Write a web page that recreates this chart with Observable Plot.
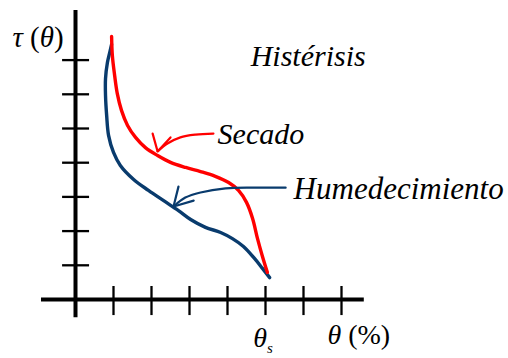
<!DOCTYPE html>
<html><head><meta charset="utf-8">
<script src="https://cdn.jsdelivr.net/npm/d3@7"></script>
<script src="https://cdn.jsdelivr.net/npm/@observablehq/plot@0.6"></script>
<style>
body{margin:0;background:#fff}
#chart svg text, #chart svg tspan{font-family:"Liberation Serif","Times New Roman",serif !important;}
</style>
</head><body><div id="chart"></div>
<script>
// Secado (drying) curve
const secadoX = [0.95,0.97,1.03,1.10,1.21,1.37,1.58,1.84,2.16,2.50,2.90,3.29,3.68,4.03,4.29,4.50,4.66,4.79,4.92,5.05];
const secadoY = [7.69,7.13,6.55,6.02,5.53,5.09,4.74,4.44,4.21,4.01,3.86,3.74,3.60,3.42,3.19,2.84,2.37,1.78,1.26,0.79];
// Humedecimiento (wetting) curve
const humedX = [0.95,0.90,0.84,0.79,0.79,0.82,0.87,1.00,1.18,1.53,1.92,2.32,2.71,3.03,3.42,3.82,4.13,4.42,4.71,4.92,5.11];
const humedY = [7.46,7.22,6.93,6.46,5.96,5.38,4.80,4.30,3.92,3.51,3.19,2.89,2.60,2.34,2.11,1.96,1.78,1.55,1.20,0.91,0.64];
// annotation arrows
const secArrowX = [3.63,3.16,2.76,2.42,2.16];
const secArrowY = [4.85,4.82,4.74,4.56,4.33];
const secHeadX = [2.03,2.16,2.50];
const secHeadY = [4.85,4.33,4.74];
const humArrowX = [5.53,4.71,3.95,3.29,2.89,2.58];
const humArrowY = [3.27,3.27,3.25,3.13,2.98,2.72];
const humHeadX = [2.71,2.58,3.11];
const humHeadY = [3.30,2.72,2.89];
// axes
const xTicks = [1,2,3,4,5,6,7];
const yTicks = [1,2,3,4,5,6,7];
const xAxisExtent = [-0.895, 7.6];
const yAxisExtent = [-0.53, 8.45];
// labels
const labelText = ["τ (θ)", "Histérisis", "Secado", "Humedecimiento", "θ (%)", "θs"];
const labelX = [-1.66, 4.61, 3.74, 5.74, 6.63, 4.68];
const labelY = [7.37, 6.84, 4.56, 2.95, -1.29, -1.40];

const pts = (xs, ys) => xs.map((x, i) => ({x, y: ys[i]}));
const red = "#ff0000", blue = "#093b6d";
const serif = "Liberation Serif";

const lab = (i, opts) => Plot.text([{x: labelX[i], y: labelY[i], t: labelText[i]}],
  {x: "x", y: "y", text: "t", textAnchor: "start", lineAnchor: "bottom", fontFamily: serif, fill: "black", ...opts});

const chart = Plot.plot({
  width: 508, height: 358,
  marginTop: 0, marginRight: 0, marginBottom: 0, marginLeft: 0,
  style: {background: "white", overflow: "visible"},
  x: {type: "linear", domain: [0, 1], range: [75, 113], axis: null},
  y: {type: "linear", domain: [0, 1], range: [299, 264.8], axis: null},
  marks: [
    Plot.ruleY([0], {x1: xAxisExtent[0], x2: xAxisExtent[1], stroke: "black", strokeWidth: 4.2}),
    Plot.ruleX([0], {y1: yAxisExtent[0], y2: yAxisExtent[1], stroke: "black", strokeWidth: 4}),
    Plot.ruleX(xTicks, {x: d => d, y1: -0.47, y2: 0.38, stroke: "black", strokeWidth: 2.3}),
    Plot.ruleY(yTicks, {y: d => d, x1: -0.34, x2: 0.37, stroke: "black", strokeWidth: 2.3}),
    Plot.line(pts(humedX, humedY), {x: "x", y: "y", stroke: blue, strokeWidth: 3.4, curve: "catmull-rom"}),
    Plot.line(pts(secadoX, secadoY), {x: "x", y: "y", stroke: red, strokeWidth: 3.4, curve: "catmull-rom"}),
    Plot.line(pts(secArrowX, secArrowY), {x: "x", y: "y", stroke: red, strokeWidth: 2.2, curve: "catmull-rom"}),
    Plot.line(pts(secHeadX, secHeadY), {x: "x", y: "y", stroke: red, strokeWidth: 2.2, strokeLinejoin: "miter"}),
    Plot.line(pts(humArrowX, humArrowY), {x: "x", y: "y", stroke: blue, strokeWidth: 2.2, curve: "catmull-rom"}),
    Plot.line(pts(humHeadX, humHeadY), {x: "x", y: "y", stroke: blue, strokeWidth: 2.2, strokeLinejoin: "miter"}),
    lab(0, {fontSize: 29, className: "lab-tau"}),
    lab(1, {fontSize: 30, fontStyle: "italic"}),
    lab(2, {fontSize: 30, fontStyle: "italic"}),
    lab(3, {fontSize: 31, fontStyle: "italic"}),
    lab(4, {fontSize: 28, className: "lab-theta"}),
    lab(5, {fontSize: 28, className: "lab-thetas"})
  ]
});
document.getElementById("chart").appendChild(chart);
// mixed italic / upright glyphs and subscript
const setHTML = (cls, html) => chart.querySelectorAll("." + cls + " text").forEach(t => t.innerHTML = html);
setHTML("lab-tau", '<tspan font-style="italic">τ</tspan> (<tspan font-style="italic">θ</tspan>)');
setHTML("lab-theta", '<tspan font-style="italic">θ</tspan> (%)');
setHTML("lab-thetas", '<tspan font-style="italic">θ</tspan><tspan font-style="italic" font-size="15" dy="6">s</tspan>');
</script>
</body></html>
